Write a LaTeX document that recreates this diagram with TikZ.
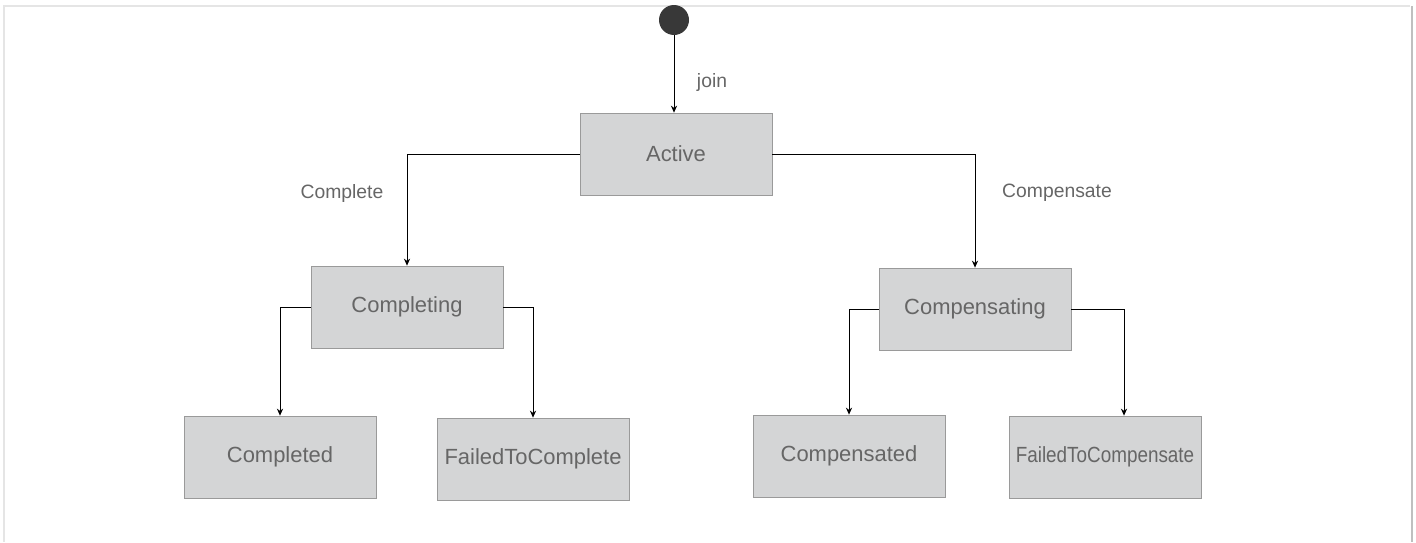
\documentclass[tikz,border=0pt]{standalone}
\usepackage{fontspec}
\setmainfont{Liberation Sans}
\usetikzlibrary{arrows.meta,shadows}
\definecolor{boxgray}{HTML}{D4D5D6}
\definecolor{edgegray}{HTML}{9A9A9A}
\definecolor{txtgray}{HTML}{666666}
\begin{document}
\begin{tikzpicture}[x=0.02cm,y=-0.02cm,
    state/.style={draw=edgegray,fill=boxgray,minimum width=3.84cm,minimum height=1.64cm,
      inner xsep=2pt,text=txtgray,font=\fontsize{12.5}{14}\selectfont,
      drop shadow={shadow xshift=0.8pt,shadow yshift=-0.8pt,fill=gray!70,opacity=0.6}},
    lbl/.style={text=txtgray,font=\fontsize{11}{13}\selectfont},
    arr/.style={-{Stealth[length=4pt,width=3.5pt]},line width=0.5pt}]
  \useasboundingbox (0,0) rectangle (1416,542);
  \draw [black!10,line width=1pt](4,542) -- (4,6) -- (1410,6);
  \draw [black!25,line width=1.4pt](1412,6) -- (1412,542);
  % states
  \node [circle,fill=black!78,minimum size=0.6cm,inner sep=0pt] (start) at (674,20) {};
  \node [state] (act) at (676,154) {Active};
  \node [state] (cmpl) at (407,307) {Completing};
  \node [state] (cmps) at (975,309) {Compensating};
  \node [state] (done) at (280,457) {Completed};
  \node [state] (ftc) at (533,459) {FailedToComplete};
  \node [state] (cmpd) at (849,456) {Compensated};
  \node [state] (ftcs) at (1105,457) {\scalebox{0.86}[1]{FailedToCompensate}};
  % transitions
  \draw [arr](start.south) -- (start.south |- act.north);
  \draw [arr](act.west) -| (cmpl.north);
  \draw [arr](act.east) -| (cmps.north);
  \draw [arr](cmpl.west) -| (done.north);
  \draw [arr](cmpl.east) -| (ftc.north);
  \draw [arr](cmps.west) -| (cmpd.north);
  \draw [arr](cmps.east) -| ([xshift=0.38cm]ftcs.north);
  \node [lbl] (j) at (712,82) {join};
  \node [lbl] (c1) at (342,193) {Complete};
  \node [lbl] (c2) at (1057,193) {Compensate};
\end{tikzpicture}
\end{document}
